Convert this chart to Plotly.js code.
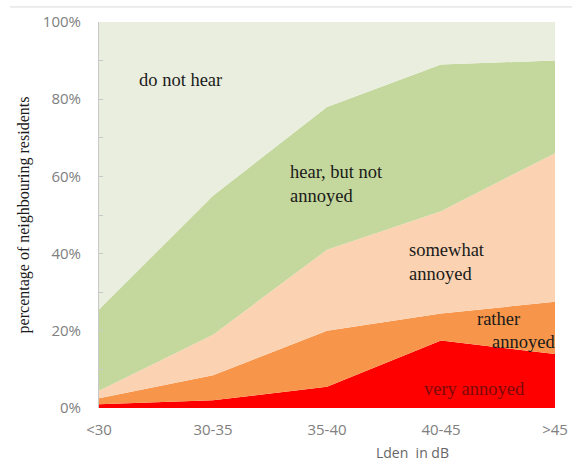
<!DOCTYPE html>
<html>
<head>
<meta charset="utf-8">
<script src="https://cdn.plot.ly/plotly-3.0.1.min.js"></script>
<style>html,body{margin:0;padding:0;background:#fff;}#chart{width:572px;height:466px;}</style>
</head>
<body>
<div id="chart"></div>
<script>
const categories = ['<30', '30-35', '35-40', '40-45', '>45'];
const veryAnnoyed = [1, 2, 5.5, 17.5, 14];
const ratherAnnoyed = [1.5, 6.5, 14.5, 7, 13.5];
const somewhatAnnoyed = [2, 10.5, 21, 26.5, 38.5];
const hearNotAnnoyed = [21, 36, 37, 38, 24];
const doNotHear = [74.5, 45, 22, 11, 10];

const seriesNames = ['very annoyed', 'rather annoyed', 'somewhat annoyed', 'hear, but not annoyed', 'do not hear'];
const seriesValues = [veryAnnoyed, ratherAnnoyed, somewhatAnnoyed, hearNotAnnoyed, doNotHear];
const seriesColors = ['#ff0000', '#f7964a', '#fbd3b3', '#c4d79c', '#eaeedf'];

const traces = seriesValues.map((vals, i) => ({
  type: 'scatter',
  x: categories,
  y: vals,
  name: seriesNames[i],
  stackgroup: 'one',
  mode: 'none',
  fillcolor: seriesColors[i],
  hoverinfo: 'skip'
}));

const serif = 'Liberation Serif, Times New Roman, serif';
const annFont = {family: serif, size: 18.5, color: '#1a1a1a'};

const layout = {
  width: 572, height: 466,
  margin: {l: 99, r: 17, t: 22, b: 58},
  paper_bgcolor: '#ffffff',
  plot_bgcolor: '#ffffff',
  showlegend: false,
  xaxis: {
    type: 'category',
    range: [0, 4],
    showgrid: false, zeroline: false, showline: false, ticks: '',
    tickfont: {family: 'Open Sans, sans-serif', size: 15, color: '#808080'},
    ticklabelstandoff: 11
  },
  yaxis: {
    range: [0, 100],
    dtick: 20,
    ticksuffix: '%',
    showgrid: false, zeroline: false,
    showline: true, linecolor: '#c8c8c8', linewidth: 1,
    ticks: 'inside', ticklen: 4, tickcolor: '#c8c8c8',
    minor: {dtick: 10, ticks: 'inside', ticklen: 4, tickcolor: '#c8c8c8'},
    tickfont: {family: 'Open Sans, sans-serif', size: 15, color: '#808080'},
    ticklabelstandoff: 14,
    title: {text: 'percentage of neighbouring residents', font: {family: serif, size: 16, color: '#1a1a1a'}, standoff: 9}
  },
  shapes: [
    {type: 'line', xref: 'paper', yref: 'paper', x0: -0.195, x1: 1.04, y0: 1.039, y1: 1.039,
     line: {color: '#d9d9d9', width: 1}}
  ],
  annotations: [
    {text: 'do not hear', x: 0.33, y: 85, xref: 'x', yref: 'y', xanchor: 'left', showarrow: false, font: annFont},
    {text: 'hear, but not<br>annoyed', x: 1.66, y: 58, xref: 'x', yref: 'y', xanchor: 'left', align: 'left', showarrow: false, font: annFont},
    {text: 'somewhat<br>annoyed', x: 2.70, y: 37.8, xref: 'x', yref: 'y', xanchor: 'left', align: 'left', showarrow: false, font: annFont},
    {text: 'rather', x: 3.30, y: 23, xref: 'x', yref: 'y', xanchor: 'left', showarrow: false, font: annFont},
    {text: 'annoyed', x: 3.43, y: 17.1, xref: 'x', yref: 'y', xanchor: 'left', showarrow: false, font: annFont},
    {text: 'very annoyed', x: 3.29, y: 4.9, xref: 'x', yref: 'y', xanchor: 'center', showarrow: false, font: {family: serif, size: 18.5, color: '#7a0a0a'}},
    {text: 'Lden  in dB', x: (412 - 99) / 456, y: -0.114, xref: 'paper', yref: 'paper', xanchor: 'center', yanchor: 'middle', showarrow: false,
     font: {family: 'Open Sans, sans-serif', size: 14, color: '#666666'}}
  ]
};

Plotly.newPlot('chart', traces, layout, {displayModeBar: false, staticPlot: true});
</script>
</body>
</html>
